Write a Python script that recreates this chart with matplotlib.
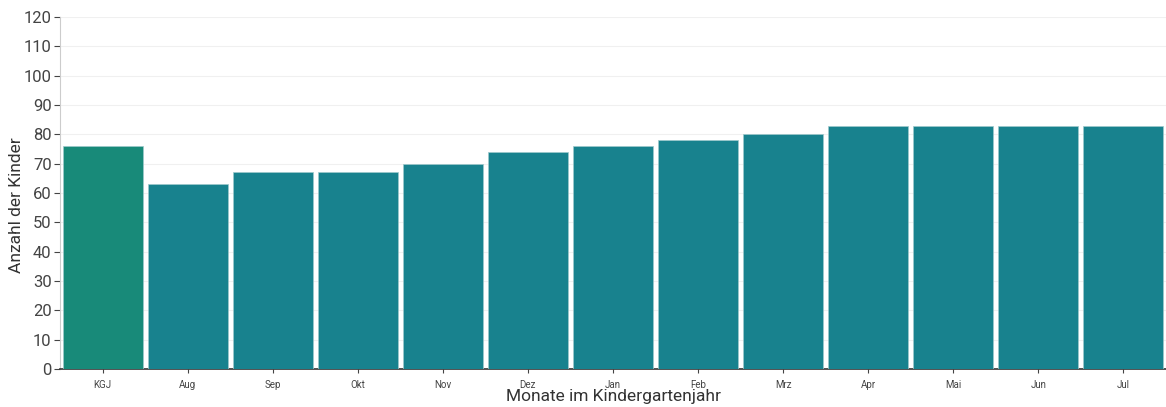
import matplotlib
matplotlib.use("Agg")
import matplotlib.pyplot as plt

categories = ["KGJ", "Aug", "Sep", "Okt", "Nov", "Dez", "Jan", "Feb", "Mrz", "Apr", "Mai", "Jun", "Jul"]
values = [76, 63, 67, 67, 70, 74, 76, 78, 80, 83, 83, 83, 83]
colors = ["#188a79"] + ["#18828e"] * 12

plt.rcParams['font.family'] = ['Roboto', 'DejaVu Sans']

fig = plt.figure(figsize=(11.66, 4.07), dpi=100)
ax = fig.add_axes([60/1166, 38/407, 1106/1166, 352/407])

x = list(range(len(categories)))
ax.bar(x, values, width=0.94, color=colors, edgecolor="#9fc9cc", linewidth=0.5, zorder=3)

ax.set_xlim(-0.5, len(categories) - 0.5)
ax.set_ylim(0, 120)
ax.set_yticks(range(0, 121, 10))
ax.set_xticks(x)
ax.set_xticklabels(categories, fontsize=7, color="#444444")
ax.tick_params(axis='y', labelsize=12, labelcolor="#444444", length=4, color="#444444", pad=2)
ax.tick_params(axis='x', length=3, color="#444444", pad=5)
ax.grid(axis='y', color="#f0f0f0", linewidth=0.8, zorder=0)

for s in ["top", "right"]:
    ax.spines[s].set_visible(False)
ax.spines["left"].set_color("#cccccc")
ax.spines["bottom"].set_color("#333333")
ax.spines["bottom"].set_linewidth(1.2)

fig.text(17/1166, 1 - 205/407, "Anzahl der Kinder", fontsize=12.5, color="#333333",
         rotation=90, ha="center", va="center")
fig.text(614/1166, 1 - 397/407, "Monate im Kindergartenjahr", fontsize=12.5, color="#333333",
         ha="center", va="center")

fig.savefig("out.png", dpi=100)
